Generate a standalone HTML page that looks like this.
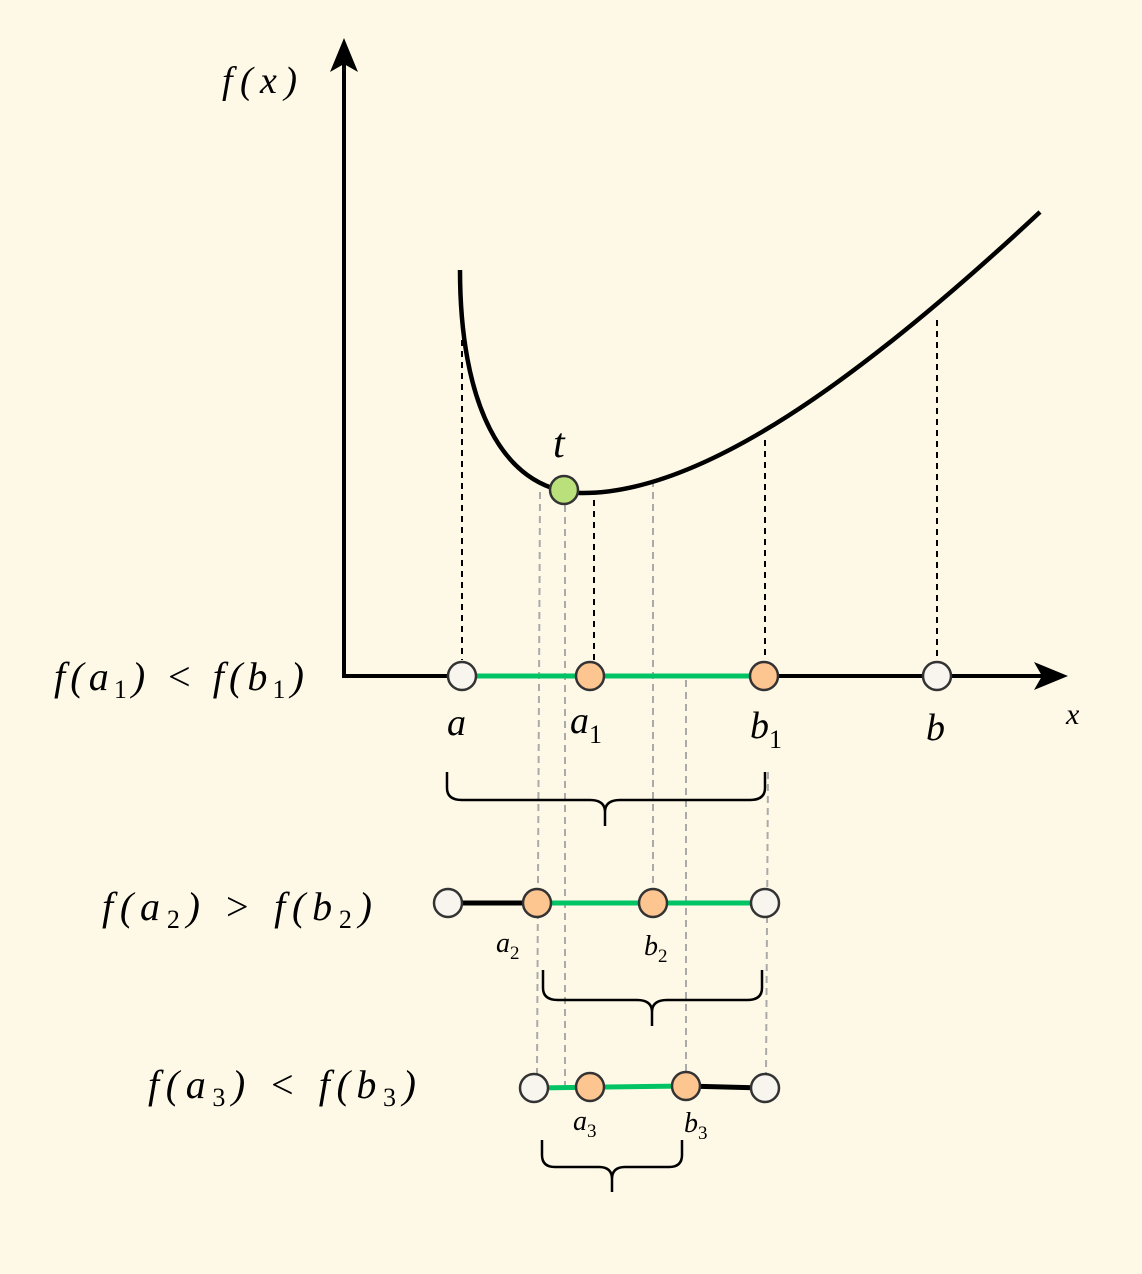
<!DOCTYPE html>
<html><head><style>body{margin:0;background:#fef9e7}svg{display:block}text{font-family:"Liberation Serif",serif;font-style:italic;fill:#000}</style></head>
<body>
<svg width="1142" height="1274" viewBox="0 0 1142 1274" xmlns="http://www.w3.org/2000/svg">
<rect width="1142" height="1274" fill="#fef9e7"/>
<g stroke="#aaa" stroke-width="2" stroke-dasharray="7,5" fill="none">
<line x1="540" y1="492" x2="537" y2="1075"/>
<line x1="565" y1="505" x2="565" y2="1090"/>
<line x1="653" y1="480" x2="653" y2="895"/>
<line x1="686" y1="680" x2="686" y2="1075"/>
<line x1="768" y1="772" x2="766" y2="1075"/>
</g>
<g stroke="#000" stroke-width="2" stroke-dasharray="6,5" fill="none">
<line x1="462" y1="340" x2="462" y2="660"/>
<line x1="594" y1="500" x2="594" y2="660"/>
<line x1="765" y1="440" x2="765" y2="660"/>
<line x1="937" y1="320" x2="937" y2="660"/>
</g>
<g stroke="#000" stroke-width="4" fill="none">
<line x1="344" y1="60" x2="344" y2="677"/>
<line x1="342" y1="676" x2="1045" y2="676"/>
</g>
<polygon points="344,38 330,72 344,64 358,72" fill="#000"/>
<polygon points="1068,676 1034,662 1042,676 1034,690" fill="#000"/>
<path d="M460,270 C460,400 500,490 580,493 C700,495 860,380 1040,212" stroke="#000" stroke-width="4.5" fill="none"/>
<line x1="462" y1="676" x2="765" y2="676" stroke="#00c464" stroke-width="5"/>
<line x1="448" y1="903" x2="537" y2="903" stroke="#000" stroke-width="5"/>
<line x1="537" y1="903" x2="765" y2="903" stroke="#00c464" stroke-width="5"/>
<line x1="534" y1="1088" x2="686" y2="1086" stroke="#00c464" stroke-width="5"/>
<line x1="686" y1="1086" x2="765" y2="1088" stroke="#000" stroke-width="5"/>
<g stroke="#333" stroke-width="2.5">
<circle cx="462" cy="676" r="14" fill="#f7f5ee"/>
<circle cx="590" cy="676" r="14" fill="#fdc590"/>
<circle cx="764" cy="676" r="14" fill="#fdc590"/>
<circle cx="937" cy="676" r="14" fill="#f7f5ee"/>
<circle cx="448" cy="903" r="14" fill="#f7f5ee"/>
<circle cx="537" cy="903" r="14" fill="#fdc590"/>
<circle cx="653" cy="903" r="14" fill="#fdc590"/>
<circle cx="765" cy="903" r="14" fill="#f7f5ee"/>
<circle cx="534" cy="1088" r="14" fill="#f7f5ee"/>
<circle cx="590" cy="1087" r="14" fill="#fdc590"/>
<circle cx="686" cy="1086" r="14" fill="#fdc590"/>
<circle cx="765" cy="1088" r="14" fill="#f7f5ee"/>
<circle cx="564" cy="490" r="14" fill="#b9e07a"/>
</g>
<g stroke="#000" stroke-width="2.5" fill="none">
<path d="M447,772 V788 Q447,800 462,800 H590 Q605,800 605,812 V826 M605,812 Q605,800 620,800 H750 Q765,800 765,788 V772"/>
<path d="M543,970 V988 Q543,1000 558,1000 H637 Q652,1000 652,1012 V1026 M652,1012 Q652,1000 667,1000 H747 Q762,1000 762,988 V970"/>
<path d="M542,1140 V1155 Q542,1167 555,1167 H599 Q612,1167 612,1179 V1192 M612,1179 Q612,1167 625,1167 H669 Q682,1167 682,1155 V1140"/>
</g>
<text x="222" y="93" font-size="38" textLength="75" lengthAdjust="spacing">f(x)</text>
<text x="1066" y="724" font-size="30">x</text>
<text x="553" y="457" font-size="42">t</text>
<text x="447" y="735" font-size="38">a</text>
<text x="570" y="733" font-size="38">a<tspan font-size="26" font-style="normal" dy="10">1</tspan></text>
<text x="750" y="738" font-size="38">b<tspan font-size="26" font-style="normal" dy="10">1</tspan></text>
<text x="926" y="740" font-size="38">b</text>
<text x="54" y="690" font-size="40" textLength="250" lengthAdjust="spacing">f(a<tspan font-size="26" font-style="normal" dy="8">1</tspan><tspan dy="-8">) &lt; f(b</tspan><tspan font-size="26" font-style="normal" dy="8">1</tspan><tspan dy="-8">)</tspan></text>
<text x="102" y="920" font-size="40" textLength="270" lengthAdjust="spacing">f(a<tspan font-size="26" font-style="normal" dy="8">2</tspan><tspan dy="-8">) &gt; f(b</tspan><tspan font-size="26" font-style="normal" dy="8">2</tspan><tspan dy="-8">)</tspan></text>
<text x="148" y="1098" font-size="40" textLength="268" lengthAdjust="spacing">f(a<tspan font-size="26" font-style="normal" dy="8">3</tspan><tspan dy="-8">) &lt; f(b</tspan><tspan font-size="26" font-style="normal" dy="8">3</tspan><tspan dy="-8">)</tspan></text>
<text x="496" y="952" font-size="28">a<tspan font-size="19" font-style="normal" dy="7">2</tspan></text>
<text x="644" y="955" font-size="28">b<tspan font-size="19" font-style="normal" dy="7">2</tspan></text>
<text x="573" y="1130" font-size="28">a<tspan font-size="19" font-style="normal" dy="7">3</tspan></text>
<text x="684" y="1132" font-size="28">b<tspan font-size="19" font-style="normal" dy="7">3</tspan></text>
</svg>
</body></html>
